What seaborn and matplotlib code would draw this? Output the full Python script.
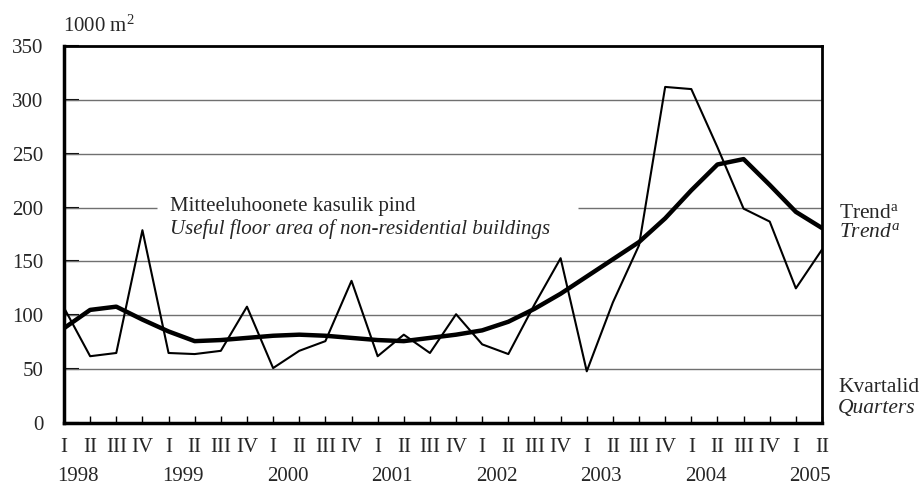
import matplotlib
matplotlib.use("Agg")
import matplotlib.pyplot as plt
import matplotlib.transforms as mtransforms
import seaborn as sns
import pandas as pd

# Quarterly useful floor area of non-residential buildings, 1998 I - 2005 II (1000 m2)
years = ["1998", "1999", "2000", "2001", "2002", "2003", "2004", "2005"]
quarter_names = ["I", "II", "III", "IV"]
quarters_value = [107, 62, 65, 179, 65, 64, 67, 108,
                  51, 67, 76, 132, 62, 82, 65, 101,
                  73, 64, 110, 153, 48, 112, 165, 312,
                  310, 256, 199, 187, 125, 161]
trend_value = [88, 105, 108, 96, 85, 76, 77, 79,
               81, 82, 81, 79, 77, 76, 79, 82,
               86, 94, 106, 120, 136, 152, 168, 190,
               216, 240, 245, 221, 196, 181]

n = len(quarters_value)
period = list(range(n))
quarter_labels = [quarter_names[i % 4] for i in period]

df = pd.DataFrame({"period": period, "quarters": quarters_value, "trend": trend_value})

sns.set_theme(style="white")
plt.rcParams["font.family"] = ["Liberation Serif", "DejaVu Serif"]
plt.rcParams["mathtext.fontset"] = "custom"
plt.rcParams["mathtext.rm"] = "Liberation Serif"
plt.rcParams["mathtext.it"] = "Liberation Serif:italic"

W, H = 924, 487
fig = plt.figure(figsize=(W / 100, H / 100), dpi=100)
ax = fig.add_axes([64 / W, 1 - 423 / H, (822 - 64) / W, (423 - 46) / H])

grid_color = "#707070"
for v in [50, 100, 150, 250, 300]:
    ax.axhline(v, color=grid_color, lw=1.0, zorder=1)
# the 200 line is interrupted by the series caption
ax.hlines(200, 0, 3.55, color=grid_color, lw=1.0, zorder=1)
ax.hlines(200, 19.65, n - 1, color=grid_color, lw=1.0, zorder=1)

sns.lineplot(data=df, x="period", y="quarters", ax=ax, color="black", lw=1.5,
             zorder=3, legend=False)
sns.lineplot(data=df, x="period", y="trend", ax=ax, color="black", lw=3.2,
             zorder=4, legend=False)

ax.set_xlim(0, n - 1)
ax.set_ylim(0, 350)
ax.set_xlabel("")
ax.set_ylabel("")

ax.set_yticks(range(0, 351, 50))
ax.tick_params(axis="y", direction="in", length=11, width=1.5, color="black",
               pad=15, labelsize=15, left=True)
ax.set_xticks(period)
ax.set_xticklabels(quarter_labels)
ax.tick_params(axis="x", direction="in", length=5, width=1.0, color="black",
               pad=11, labelsize=15, bottom=True)

for side, w in [("left", 2.5), ("bottom", 2.5), ("top", 2.0), ("right", 2.0)]:
    ax.spines[side].set_visible(True)
    ax.spines[side].set_color("black")
    ax.spines[side].set_linewidth(w)

# year labels under the quarter numerals
trans = mtransforms.blended_transform_factory(ax.transData, fig.transFigure)
for i, yr in enumerate(years):
    ax.text(i * 4 + 0.55, 1 - 481 / H, yr, transform=trans, ha="center",
            va="baseline", fontsize=15, clip_on=False)

fig.text(63 / W, 1 - 32 / H, r"1000 m$^2$", ha="left", va="baseline", fontsize=15)

ax.text(4.06, 196.8, "Mitteeluhoonete kasulik pind", ha="left", va="baseline",
        fontsize=15, zorder=5)
ax.text(4.06, 175.5, "Useful floor area of non-residential buildings", ha="left",
        va="baseline", fontsize=15, style="italic", zorder=5)

fig.text(839 / W, 1 - 217.5 / H, r"Trend$^{\mathrm{a}}$", ha="left", va="baseline",
         fontsize=15.5)
fig.text(839 / W, 1 - 237 / H, r"$\mathit{Trend}^{a}$", ha="left", va="baseline",
         fontsize=15.5)
fig.text(838 / W, 1 - 392 / H, "Kvartalid", ha="left", va="baseline", fontsize=15.5)
fig.text(838 / W, 1 - 413 / H, "Quarters", ha="left", va="baseline", fontsize=15.5,
         style="italic")

fig.savefig("out.png", dpi=100, facecolor="white")
